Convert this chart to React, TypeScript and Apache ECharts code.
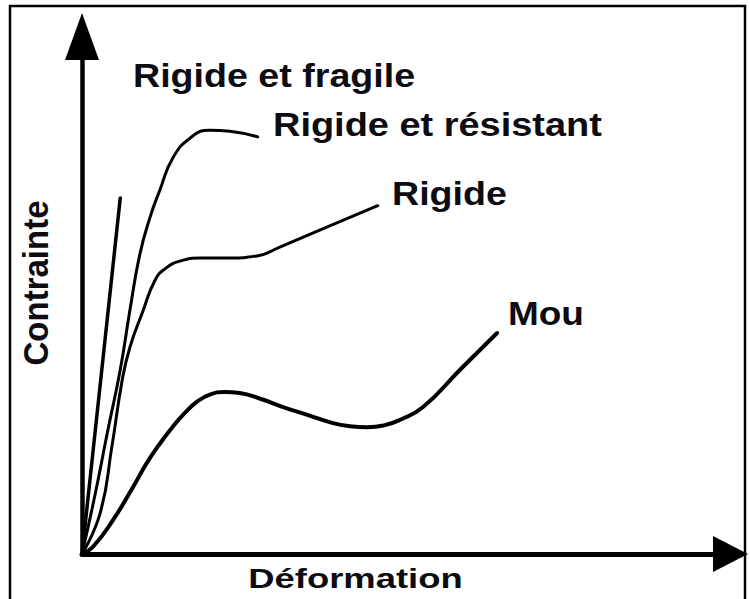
import React, { useEffect, useRef } from "react";
import * as echarts from "echarts";

// Values on an arbitrary 0–10 scale (Déformation, Contrainte)
const fragile: number[][] = [
  [0, 0],
  [0.59, 6.88],
];
const resistant: number[][] = [
  [0, 0], [0.2, 1.14], [0.4, 2.4], [0.59, 3.56], [0.74, 4.72], [0.89, 5.78],
  [1.05, 6.51], [1.2, 7.03], [1.4, 7.65], [1.67, 8.04], [1.97, 8.19],
  [2.28, 8.17], [2.71, 8.06],
];
const rigide: number[][] = [
  [0, 0], [0.28, 0.79], [0.46, 2.07], [0.62, 3.36], [0.74, 4.0], [0.93, 4.66],
  [1.13, 5.3], [1.3, 5.53], [1.51, 5.66], [1.82, 5.72], [2.28, 5.72],
  [2.7, 5.76], [3.05, 5.93], [3.82, 6.34], [4.56, 6.73],
];
const mou: number[][] = [
  [0, 0], [0.17, 0.14], [0.48, 0.66], [0.79, 1.3], [1.0, 1.76], [1.2, 2.13],
  [1.4, 2.46], [1.59, 2.73], [1.77, 2.94], [1.97, 3.08], [2.2, 3.13],
  [2.43, 3.11], [2.75, 3.0], [3.1, 2.84], [3.52, 2.67], [3.87, 2.53],
  [4.13, 2.47], [4.4, 2.45], [4.67, 2.49], [4.9, 2.59], [5.26, 2.84],
  [5.83, 3.56], [6.4, 4.27],
];
const seriesNames = ["Rigide et fragile", "Rigide et résistant", "Rigide", "Mou"];
const xAxisName = "Déformation";
const yAxisName = "Contrainte";

const FONT = "'Liberation Sans', Arial, Helvetica, sans-serif";
const INK = "#0c0c12";

function label(text: string, x: number, y: number, scaleX: number, align = "left", fontSize = 33) {
  return {
    type: "text",
    x,
    y,
    scaleX,
    z: 10,
    style: {
      text,
      fontFamily: FONT,
      fontWeight: "bold",
      fontSize,
      fill: INK,
      textAlign: align,
      align,
      textVerticalAlign: "middle",
      verticalAlign: "middle",
    },
  };
}

export default function App() {
  const ref = useRef<HTMLDivElement>(null);
  useEffect(() => {
    if (!ref.current) return;
    const chart = echarts.init(ref.current, null, { renderer: "svg" });
    const line = (name: string, data: number[][], width: number, smooth: number) => ({
      name,
      type: "line",
      data,
      smooth,
      symbol: "none",
      showSymbol: false,
      lineStyle: { color: "#000", width, cap: "round", join: "round" },
    });
    chart.setOption({
      animation: false,
      backgroundColor: "#fff",
      grid: { left: 82, right: 19.5, top: 36.5, bottom: 45 },
      xAxis: {
        type: "value",
        min: 0,
        max: 10,
        axisLine: {
          show: true,
          onZero: false,
          symbol: ["none", "triangle"],
          symbolSize: [36, 35],
          lineStyle: { color: "#000", width: 5 },
        },
        axisTick: { show: false },
        axisLabel: { show: false },
        splitLine: { show: false },
      },
      yAxis: {
        type: "value",
        min: 0,
        max: 10,
        axisLine: {
          show: true,
          onZero: false,
          symbol: ["none", "triangle"],
          symbolSize: [34, 47],
          lineStyle: { color: "#000", width: 4.5 },
        },
        axisTick: { show: false },
        axisLabel: { show: false },
        splitLine: { show: false },
      },
      series: [
        line(seriesNames[0], fragile, 3.5, 0),
        line(seriesNames[1], resistant, 3, 0.5),
        line(seriesNames[2], rigide, 3, 0.5),
        line(seriesNames[3], mou, 4, 0.5),
      ],
      graphic: [
        {
          type: "polyline",
          shape: { points: [[10, 600], [10, 6], [745, 6], [745, 600]] },
          style: { stroke: "#000", lineWidth: 2.5, fill: "none" },
          z: 1,
        },
        label(seriesNames[0], 133, 75, 1.14),
        label(seriesNames[1], 273, 125, 1.15),
        label(seriesNames[2], 392, 193, 1.14),
        label(seriesNames[3], 508, 313, 1.12),
        label(xAxisName, 355.5, 579, 1.3, "center", 28),
        {
          type: "text",
          x: 35.5,
          y: 283,
          rotation: Math.PI / 2,
          scaleY: 1.05,
          z: 10,
          style: {
            text: yAxisName,
            fontFamily: FONT,
            fontWeight: "bold",
            fontSize: 33,
            fill: INK,
            textAlign: "center",
            align: "center",
            textVerticalAlign: "middle",
            verticalAlign: "middle",
          },
        },
      ],
    });
    return () => chart.dispose();
  }, []);
  return (
    <div
      ref={ref}
      style={{ position: "fixed", left: 0, top: 0, width: 750, height: 599, background: "#fff" }}
    />
  );
}
